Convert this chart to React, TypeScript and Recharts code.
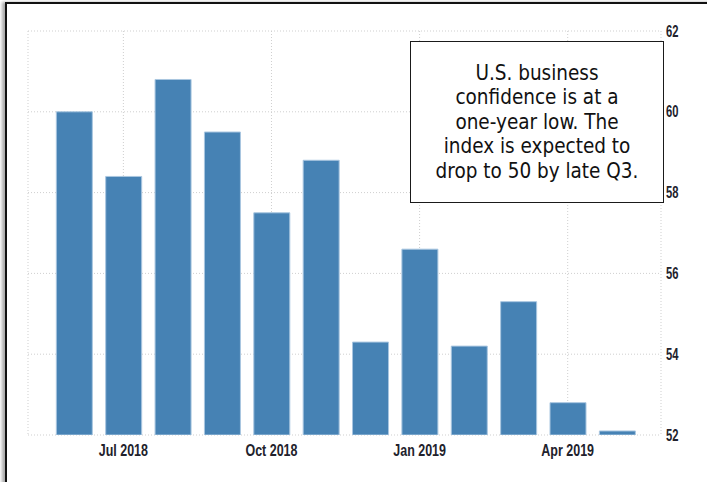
import { BarChart, Bar, CartesianGrid, XAxis, YAxis } from "recharts";

const months = [
  "Jun 2018", "Jul 2018", "Aug 2018", "Sep 2018", "Oct 2018", "Nov 2018",
  "Dec 2018", "Jan 2019", "Feb 2019", "Mar 2019", "Apr 2019", "May 2019",
];
const confidence = [60.0, 58.4, 60.8, 59.5, 57.5, 58.8, 54.3, 56.6, 54.2, 55.3, 52.8, 52.1];
const xTickIndex = [1, 4, 7, 10];
const yTicks = [52, 54, 56, 58, 60, 62];
const noteLines = [
  "U.S. business",
  "confidence is at a",
  "one-year low. The",
  "index is expected to",
  "drop to 50 by late Q3.",
];

const data = months.map((m, i) => ({ idx: i, month: m, value: confidence[i] }));

const tickFont = "'Liberation Sans Narrow', 'Liberation Sans', Arial, sans-serif";

function XTick(props: any) {
  const { x, y, payload } = props;
  return (
    <text
      transform={`translate(${x},${y}) scale(0.78,1)`}
      textAnchor="middle"
      dy="0.71em"
      fontSize={16}
      fontWeight={600}
      fontFamily={tickFont}
      fill="#22222c"
    >
      {months[payload.value]}
    </text>
  );
}

function YTick(props: any) {
  const { x, y, payload } = props;
  return (
    <text
      transform={`translate(${x},${y}) scale(0.7,1)`}
      textAnchor="start"
      dy="0.355em"
      fontSize={16}
      fontWeight={600}
      fontFamily={tickFont}
      fill="#22222c"
    >
      {payload.value}
    </text>
  );
}

export default function App() {
  return (
    <div style={{ position: "fixed", left: 0, top: 0, width: 707, height: 482, background: "#fff", overflow: "hidden" }}>
      <div
        style={{
          position: "absolute",
          left: 5,
          top: 2,
          width: 720,
          height: 500,
          borderLeft: "2px solid #111",
          borderTop: "2px solid #111",
          boxShadow: "-3px 0 3px #aaa",
        }}
      />
      <div style={{ position: "absolute", left: 0, top: 0 }}>
        <BarChart width={707} height={482} data={data} margin={{ top: 31, right: 6, left: 28, bottom: 0 }}>
          <CartesianGrid stroke="#cfcfcf" strokeDasharray="1 2" />
          <XAxis
            dataKey="idx"
            type="number"
            domain={[-0.932, 11.89]}
            ticks={xTickIndex}
            allowDataOverflow
            axisLine={false}
            tickLine={false}
            tickSize={0}
            tickMargin={10}
            height={47}
            tick={<XTick />}
          />
          <YAxis
            orientation="right"
            domain={[52, 62]}
            ticks={yTicks}
            allowDataOverflow
            axisLine={false}
            tickLine={false}
            tickSize={0}
            tickMargin={5}
            width={40}
            tick={<YTick />}
          />
          <Bar dataKey="value" fill="#4682b4" stroke="#a9c6e0" strokeWidth={1} barSize={36} isAnimationActive={false} />
        </BarChart>
      </div>
      <div
        style={{
          position: "absolute",
          left: 410,
          top: 41,
          width: 254,
          height: 162,
          boxSizing: "border-box",
          border: "1.5px solid #1a1a1a",
          background: "#fff",
          display: "flex",
          flexDirection: "column",
          alignItems: "center",
          justifyContent: "center",
          textAlign: "center",
          fontFamily: "'DejaVu Sans Condensed', 'DejaVu Sans', sans-serif",
          fontSize: 20.5,
          lineHeight: "24.5px",
          color: "#111",
          whiteSpace: "nowrap",
        }}
      >
        {noteLines.map((line) => (
          <div key={line}>{line}</div>
        ))}
      </div>
    </div>
  );
}
